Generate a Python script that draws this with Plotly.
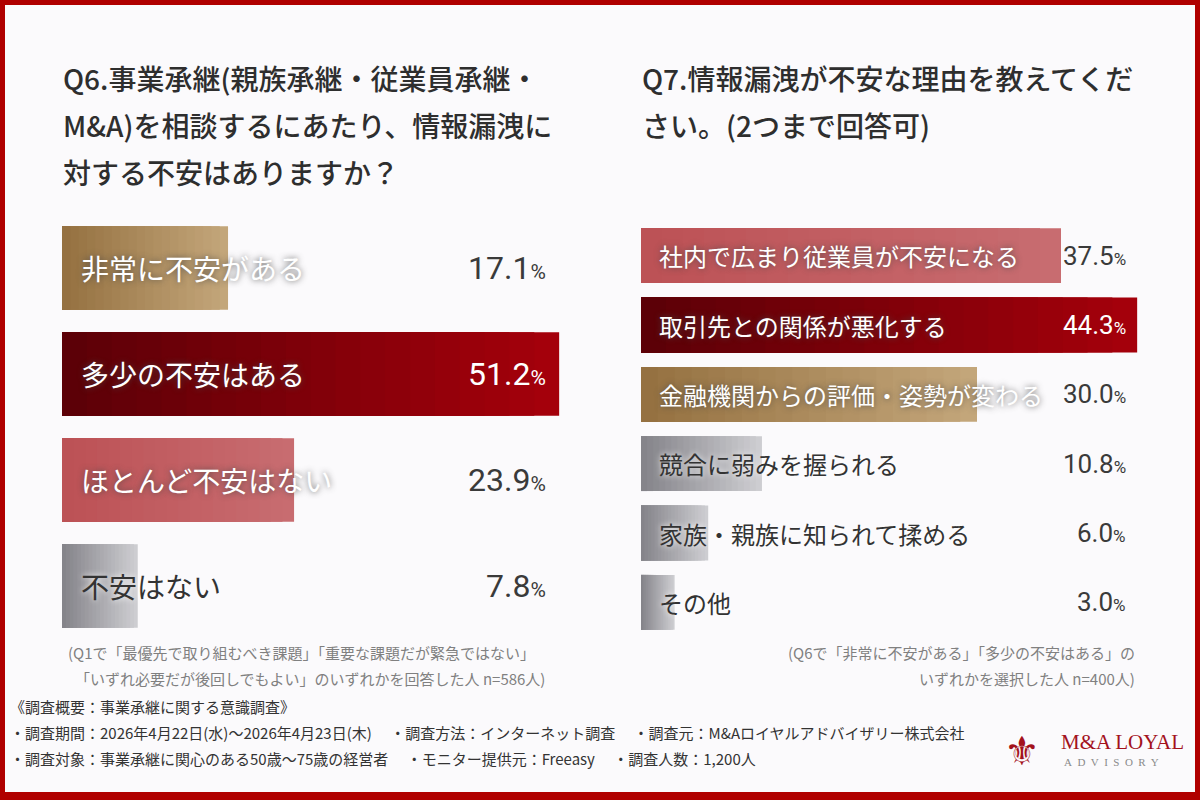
import plotly.graph_objects as go

# ---------------- data ----------------
q6_labels = ["非常に不安がある", "多少の不安はある", "ほとんど不安はない", "不安はない"]
q6_values = [17.1, 51.2, 23.9, 7.8]
q6_styles = ["gold", "red", "rose", "gray"]

q7_labels = ["社内で広まり従業員が不安になる", "取引先との関係が悪化する",
             "金融機関からの評価・姿勢が変わる", "競合に弱みを握られる",
             "家族・親族に知られて揉める", "その他"]
q7_values = [37.5, 44.3, 30.0, 10.8, 6.0, 3.0]
q7_styles = ["rose", "red", "gold", "gray", "gray", "gray"]

q6_title = ["Q6.事業承継(親族承継・従業員承継・",
            "M&A)を相談するにあたり、情報漏洩に",
            "対する不安はありますか？"]
q7_title = ["Q7.情報漏洩が不安な理由を教えてくだ",
            "さい。(2つまで回答可)"]
q6_note = ["(Q1で「最優先で取り組むべき課題」「重要な課題だが緊急ではない」",
           "「いずれ必要だが後回しでもよい」のいずれかを回答した人 n=586人)"]
q7_note = ["(Q6で「非常に不安がある」「多少の不安はある」の",
           "いずれかを選択した人 n=400人)"]
survey_lines = ["《調査概要：事業承継に関する意識調査》",
                "・調査期間：2026年4月22日(水)～2026年4月23日(木)　 ・調査方法：インターネット調査　 ・調査元：M&Aロイヤルアドバイザリー株式会社",
                "・調査対象：事業承継に関心のある50歳～75歳の経営者　 ・モニター提供元：Freeasy　 ・調査人数：1,200人"]
logo_name = "M&A LOYAL"
logo_sub = "A\u00a0 D\u00a0 V\u00a0 I\u00a0 S\u00a0 O\u00a0 R\u00a0 Y"

# ---------------- styles ----------------
GRAD = {
    "gold": ("#94703f", "#c4a77c"),
    "red": ("#5a0007", "#a6000b"),
    "rose": ("#bc5155", "#c86d71"),
    "gray": ("#838288", "#cfcfd3"),
}
LABEL_COLOR = {"gold": "white", "red": "white", "rose": "white", "gray": "#333333"}
JP = "Noto Sans CJK JP, Noto Sans, sans-serif"
NUM = "Roboto, sans-serif"
BG = "#fbfafc"
BORDER = "#b00000"
W, H = 1200, 800


def hex2rgb(h):
    h = h.lstrip("#")
    return tuple(int(h[i:i + 2], 16) for i in (0, 2, 4))


def lerp(c1, c2, t):
    a, b = hex2rgb(c1), hex2rgb(c2)
    return "rgb(%d,%d,%d)" % tuple(round(a[i] + (b[i] - a[i]) * t) for i in range(3))


fig = go.Figure()
K = 20


def add_grad_bars(labels, values, styles, xa, ya):
    for k in range(K):
        frac = (K - k) / K
        t = frac - 0.5 / K
        fig.add_trace(go.Bar(
            y=labels, x=[v * frac for v in values], orientation="h",
            marker=dict(color=[lerp(*GRAD[s], t) for s in styles], line=dict(width=0)),
            xaxis=xa, yaxis=ya, showlegend=False, hoverinfo="skip",
        ))


add_grad_bars(q6_labels, q6_values, q6_styles, "x", "y")
add_grad_bars(q7_labels, q7_values, q7_styles, "x2", "y2")

ann = []


def px_x(p):
    return p / W


def px_y(p):
    return 1 - p / H


WHITE_SH = "0px 0px 6px rgba(70,70,70,0.85)"
DARK_SH = "0px 0px 6px rgba(255,255,255,1)"

# bar labels and values
for lab, val, sty in zip(q6_labels, q6_values, q6_styles):
    c = LABEL_COLOR[sty]
    ann.append(dict(x=0, y=lab, xref="x", yref="y", text=lab, showarrow=False,
                    xanchor="left", yanchor="middle", xshift=17,
                    font=dict(family=JP, size=28, color=c,
                              shadow=WHITE_SH if c == "white" else DARK_SH)))
    vc = "white" if sty == "red" else "#3a3a3a"
    ann.append(dict(x=px_x(548), y=lab, xref="paper", yref="y",
                    text="%.1f<span style='font-size:21px'>%%</span>" % val, showarrow=False,
                    xanchor="right", yanchor="middle",
                    font=dict(family=NUM, size=32, color=vc)))

for lab, val, sty in zip(q7_labels, q7_values, q7_styles):
    c = LABEL_COLOR[sty]
    ann.append(dict(x=0, y=lab, xref="x2", yref="y2", text=lab, showarrow=False,
                    xanchor="left", yanchor="middle", xshift=16,
                    font=dict(family=JP, size=24, color=c,
                              shadow=WHITE_SH if c == "white" else DARK_SH)))
    vc = "white" if sty == "red" else "#3a3a3a"
    ann.append(dict(x=px_x(1128), y=lab, xref="paper", yref="y2",
                    text="%.1f<span style='font-size:17px'>%%</span>" % val, showarrow=False,
                    xanchor="right", yanchor="middle",
                    font=dict(family=NUM, size=26, color=vc)))

# titles
for i, line in enumerate(q6_title):
    ann.append(dict(x=px_x(61), y=px_y(78 + 47 * i), xref="paper", yref="paper", text=line,
                    showarrow=False, xanchor="left", yanchor="middle",
                    font=dict(family=JP, size=28, color="#2e2e2e", weight=500)))
for i, line in enumerate(q7_title):
    ann.append(dict(x=px_x(640), y=px_y(78 + 47 * i), xref="paper", yref="paper", text=line,
                    showarrow=False, xanchor="left", yanchor="middle",
                    font=dict(family=JP, size=28, color="#2e2e2e", weight=500)))

# footnotes
ann.append(dict(x=px_x(66), y=px_y(652), xref="paper", yref="paper", text=q6_note[0],
                showarrow=False, xanchor="left", yanchor="middle",
                font=dict(family=JP, size=15, color="#808080")))
ann.append(dict(x=px_x(73), y=px_y(678), xref="paper", yref="paper", text=q6_note[1],
                showarrow=False, xanchor="left", yanchor="middle",
                font=dict(family=JP, size=15, color="#808080")))
for i, line in enumerate(q7_note):
    ann.append(dict(x=px_x(1137), y=px_y(652 + 26 * i), xref="paper", yref="paper", text=line,
                    showarrow=False, xanchor="right", yanchor="middle",
                    font=dict(family=JP, size=15, color="#808080")))

# survey outline
for i, line in enumerate(survey_lines):
    ann.append(dict(x=px_x(8), y=px_y(706 + 26 * i), xref="paper", yref="paper", text=line,
                    showarrow=False, xanchor="left", yanchor="middle",
                    font=dict(family=JP, size=15, color="#333333")))

# logo
ann.append(dict(x=px_x(1022), y=px_y(751), xref="paper", yref="paper", text="⚜",
                showarrow=False, xanchor="center", yanchor="middle",
                font=dict(family="DejaVu Sans", size=40, color="#a3121c")))
ann.append(dict(x=px_x(1059), y=px_y(742), xref="paper", yref="paper", text=logo_name,
                showarrow=False, xanchor="left", yanchor="middle",
                font=dict(family="Liberation Serif, serif", size=21, color="#a3121c")))
ann.append(dict(x=px_x(1062), y=px_y(762), xref="paper", yref="paper", text=logo_sub,
                showarrow=False, xanchor="left", yanchor="middle",
                font=dict(family="Liberation Serif, serif", size=11, color="#8a8a8a")))

shapes = [
    dict(type="rect", xref="paper", yref="paper", x0=0, x1=1, y0=0, y1=1,
         line=dict(color=BORDER, width=10), fillcolor="rgba(0,0,0,0)", layer="above"),
    dict(type="rect", xref="paper", yref="paper", x0=0, x1=1, y0=0, y1=px_y(792),
         line=dict(width=0), fillcolor=BORDER, layer="above"),
]

axis_off = dict(showgrid=False, zeroline=False, showticklabels=False, showline=False, ticks="")

fig.update_layout(
    width=W, height=H, margin=dict(l=0, r=0, t=0, b=0),
    paper_bgcolor=BG, plot_bgcolor="rgba(0,0,0,0)",
    barmode="overlay", bargap=0.21,
    xaxis=dict(domain=[px_x(62), px_x(62 + 55 * 9.71)], range=[0, 55], **axis_off),
    yaxis=dict(domain=[px_y(639), px_y(215)], categoryorder="array", categoryarray=q6_labels,
               autorange="reversed", **axis_off),
    xaxis2=dict(domain=[px_x(641), px_x(641 + 48 * 11.2)], range=[0, 48], anchor="y2", **axis_off),
    yaxis2=dict(domain=[px_y(637), px_y(221)], categoryorder="array", categoryarray=q7_labels,
                autorange="reversed", anchor="x2", **axis_off),
    annotations=ann, shapes=shapes,
)

fig.write_html("out.html", config={"displayModeBar": False},
               post_script="document.body.style.margin='0px';")
